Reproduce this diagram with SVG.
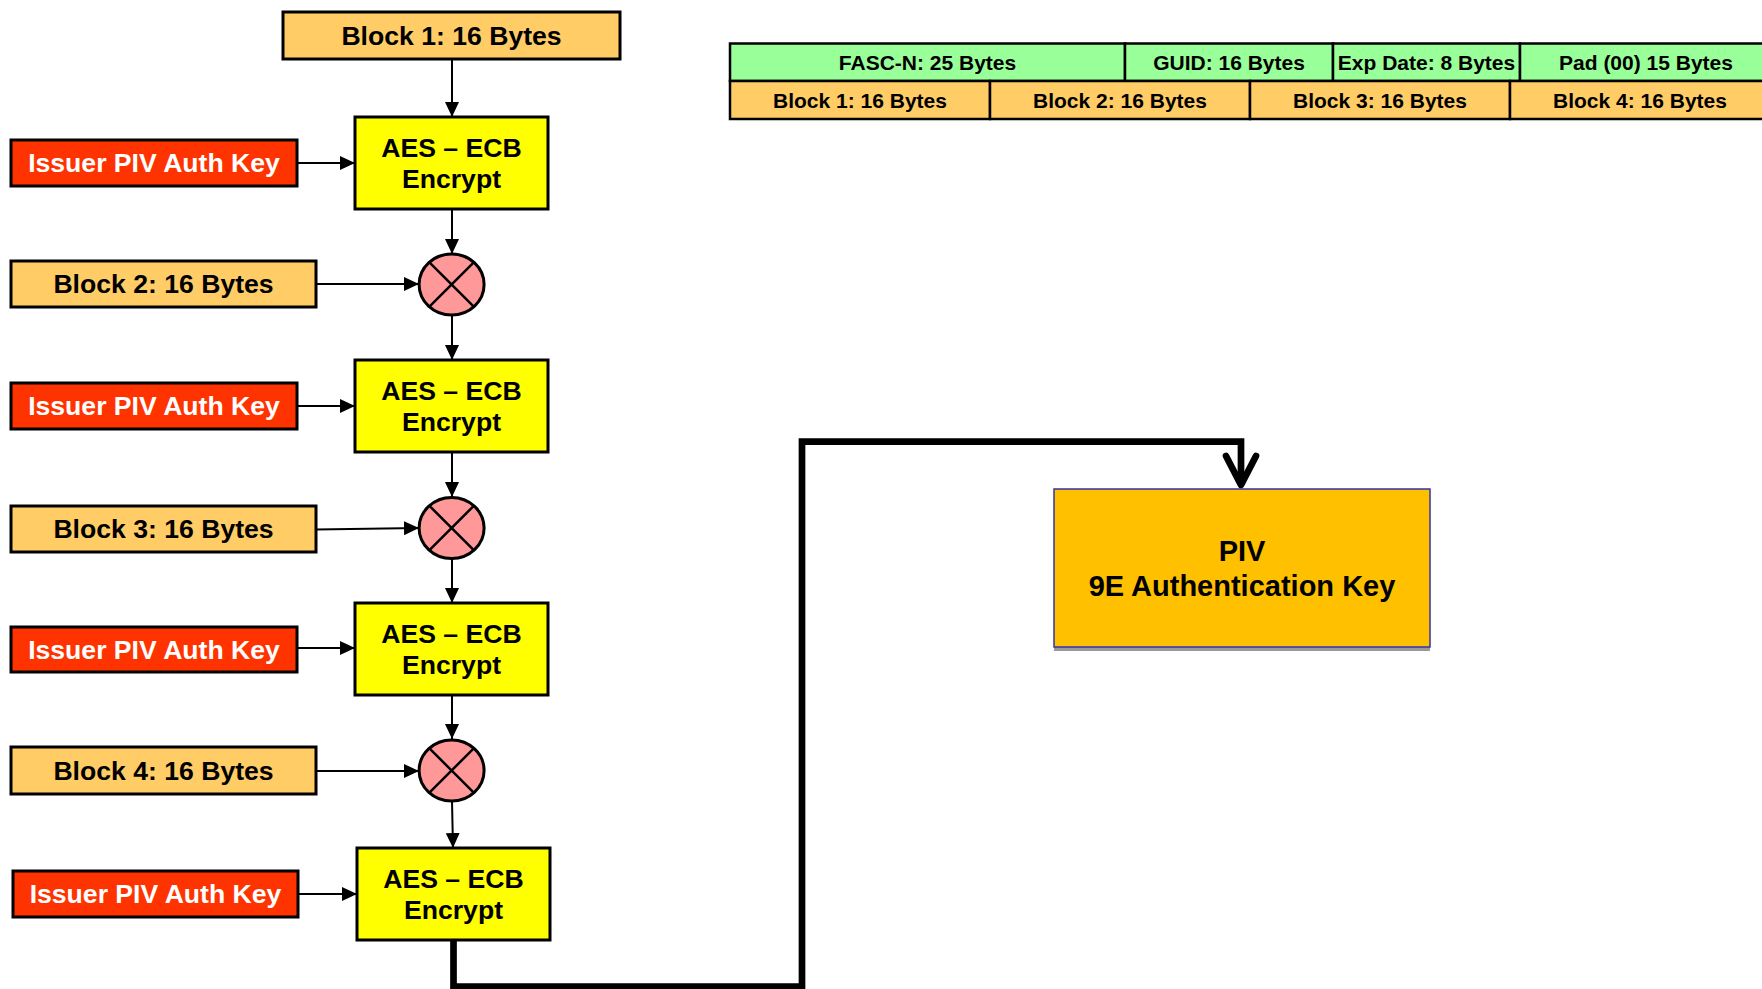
<svg xmlns="http://www.w3.org/2000/svg" width="1762" height="989" viewBox="0 0 1762 989">
  <defs>
    <style>
      .lbl { font-family: "Liberation Sans", Arial, sans-serif; font-weight: bold; text-anchor: middle; }
      .big { font-size: 26.6px; }
      .tbl { font-size: 21px; }
      .piv { font-size: 29px; }
      .block { fill: #FFCC66; stroke: #000; stroke-width: 3; }
      .key { fill: #FF3300; stroke: #000; stroke-width: 3; }
      .aes { fill: #FFFF00; stroke: #000; stroke-width: 3; }
      .xor { fill: #FF9999; stroke: #000; stroke-width: 3; }
      .xline { stroke: #000; stroke-width: 2.5; }
      .green { fill: #99FF99; stroke: #000; stroke-width: 2.5; }
      .cell { fill: #FFCC66; stroke: #000; stroke-width: 2.5; }
      .conn { stroke: #000; stroke-width: 2; fill: none; marker-end: url(#arr); }
      .thick { stroke: #000; stroke-width: 6.7; fill: none; }
      .white { fill: #FFFFFF; }
    </style>
    <marker id="arr" markerUnits="userSpaceOnUse" markerWidth="16" markerHeight="14" refX="15" refY="7" orient="auto">
      <path d="M0,0 L15,7 L0,14 z" fill="#000"/>
    </marker>
  </defs>

  <rect width="1762" height="989" fill="#FFFFFF"/>

  <!-- Connectors -->
  <g id="connectors">
    <line class="conn" x1="452" y1="59" x2="452" y2="117"/>
    <line class="conn" x1="297" y1="163" x2="355" y2="163"/>
    <line class="conn" x1="452" y1="209" x2="452" y2="254"/>
    <line class="conn" x1="316" y1="284" x2="419" y2="284"/>
    <line class="conn" x1="452" y1="315" x2="452" y2="360"/>
    <line class="conn" x1="297" y1="406" x2="355" y2="406"/>
    <line class="conn" x1="452" y1="452" x2="452" y2="497"/>
    <line class="conn" x1="316" y1="529.5" x2="419" y2="528"/>
    <line class="conn" x1="452" y1="559" x2="452" y2="603"/>
    <line class="conn" x1="297" y1="648" x2="355" y2="648"/>
    <line class="conn" x1="452" y1="695" x2="452" y2="739"/>
    <line class="conn" x1="316" y1="771" x2="419" y2="771"/>
    <line class="conn" x1="452" y1="801" x2="453" y2="848"/>
    <line class="conn" x1="298" y1="894" x2="357" y2="894"/>
    <!-- final output route to the PIV key -->
    <polyline class="thick" stroke-linejoin="miter" points="453.5,940 453.5,986.5 802,986.5 802,441.7 1241,441.7 1241,484"/>
    <polyline class="thick" stroke-linecap="round" stroke-linejoin="round" points="1226,456 1241,485 1256,456"/>
  </g>

  <!-- Byte layout table -->
  <g id="layout-table">
    <rect class="green" x="730" y="43.5" width="395" height="37.5"/>
    <rect class="green" x="1125" y="43.5" width="208" height="37.5"/>
    <rect class="green" x="1333" y="43.5" width="187" height="37.5"/>
    <rect class="green" x="1520" y="43.5" width="252" height="37.5"/>
    <rect class="cell" x="730" y="81" width="260" height="38"/>
    <rect class="cell" x="990" y="81" width="260" height="38"/>
    <rect class="cell" x="1250" y="81" width="260" height="38"/>
    <rect class="cell" x="1510" y="81" width="260" height="38"/>
    <text class="lbl tbl" x="927.5" y="69.5">FASC-N: 25 Bytes</text>
    <text class="lbl tbl" x="1229" y="69.5">GUID: 16 Bytes</text>
    <text class="lbl tbl" x="1426.5" y="69.5">Exp Date: 8 Bytes</text>
    <text class="lbl tbl" x="1646" y="69.5">Pad (00) 15 Bytes</text>
    <text class="lbl tbl" x="860" y="107.5">Block 1: 16 Bytes</text>
    <text class="lbl tbl" x="1120" y="107.5">Block 2: 16 Bytes</text>
    <text class="lbl tbl" x="1380" y="107.5">Block 3: 16 Bytes</text>
    <text class="lbl tbl" x="1640" y="107.5">Block 4: 16 Bytes</text>
  </g>

  <!-- Input blocks -->
  <g id="block1">
    <rect class="block" x="283" y="12" width="337" height="47"/>
    <text class="lbl big" x="451.5" y="44.5">Block 1: 16 Bytes</text>
  </g>
  <g id="block2">
    <rect class="block" x="11" y="261" width="305" height="46"/>
    <text class="lbl big" x="163.5" y="293">Block 2: 16 Bytes</text>
  </g>
  <g id="block3">
    <rect class="block" x="11" y="506" width="305" height="46"/>
    <text class="lbl big" x="163.5" y="538">Block 3: 16 Bytes</text>
  </g>
  <g id="block4">
    <rect class="block" x="11" y="747" width="305" height="47"/>
    <text class="lbl big" x="163.5" y="779.5">Block 4: 16 Bytes</text>
  </g>

  <!-- Issuer keys -->
  <g id="key1">
    <rect class="key" x="11" y="140" width="286" height="46"/>
    <text class="lbl big white" x="154" y="172">Issuer PIV Auth Key</text>
  </g>
  <g id="key2">
    <rect class="key" x="11" y="383" width="286" height="46"/>
    <text class="lbl big white" x="154" y="415">Issuer PIV Auth Key</text>
  </g>
  <g id="key3">
    <rect class="key" x="11" y="627" width="286" height="45"/>
    <text class="lbl big white" x="154" y="658.5">Issuer PIV Auth Key</text>
  </g>
  <g id="key4">
    <rect class="key" x="13" y="871" width="285" height="46"/>
    <text class="lbl big white" x="155.5" y="903">Issuer PIV Auth Key</text>
  </g>

  <!-- AES-ECB encryption stages -->
  <g id="aes1">
    <rect class="aes" x="355" y="117" width="193" height="92"/>
    <text class="lbl big" x="451.5" y="156.5">AES – ECB</text>
    <text class="lbl big" x="451.5" y="187.5">Encrypt</text>
  </g>
  <g id="aes2">
    <rect class="aes" x="355" y="360" width="193" height="92"/>
    <text class="lbl big" x="451.5" y="399.5">AES – ECB</text>
    <text class="lbl big" x="451.5" y="430.5">Encrypt</text>
  </g>
  <g id="aes3">
    <rect class="aes" x="355" y="603" width="193" height="92"/>
    <text class="lbl big" x="451.5" y="642.5">AES – ECB</text>
    <text class="lbl big" x="451.5" y="673.5">Encrypt</text>
  </g>
  <g id="aes4">
    <rect class="aes" x="357" y="848" width="193" height="92"/>
    <text class="lbl big" x="453.5" y="887.5">AES – ECB</text>
    <text class="lbl big" x="453.5" y="918.5">Encrypt</text>
  </g>

  <!-- XOR operators -->
  <g id="xor1">
    <ellipse class="xor" cx="451.6" cy="284.5" rx="32.5" ry="30.5"/>
    <line class="xline" x1="429.2" y1="262.1" x2="474" y2="306.9"/>
    <line class="xline" x1="474" y1="262.1" x2="429.2" y2="306.9"/>
  </g>
  <g id="xor2">
    <ellipse class="xor" cx="451.6" cy="528" rx="32.5" ry="30.5"/>
    <line class="xline" x1="429.2" y1="505.6" x2="474" y2="550.4"/>
    <line class="xline" x1="474" y1="505.6" x2="429.2" y2="550.4"/>
  </g>
  <g id="xor3">
    <ellipse class="xor" cx="451.6" cy="770.5" rx="32.5" ry="30.5"/>
    <line class="xline" x1="429.2" y1="748.1" x2="474" y2="792.9"/>
    <line class="xline" x1="474" y1="748.1" x2="429.2" y2="792.9"/>
  </g>

  <!-- Resulting key -->
  <g id="piv-key">
    <rect x="1054" y="493" width="376" height="158" fill="#999999"/>
    <rect x="1054" y="489" width="376" height="158" fill="#FFC000" stroke="#3333AA" stroke-width="1.5"/>
    <text class="lbl piv" x="1242" y="560.5">PIV</text>
    <text class="lbl piv" x="1242" y="595.5">9E Authentication Key</text>
  </g>
</svg>
